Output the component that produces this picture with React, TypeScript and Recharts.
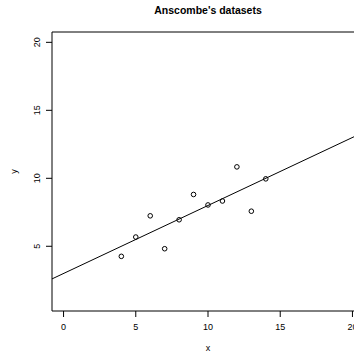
import React from "react";
import {
  ScatterChart,
  Scatter,
  XAxis,
  YAxis,
  ReferenceArea,
  ReferenceLine,
} from "recharts";

// Anscombe's quartet, dataset I
const xValues = [10, 8, 13, 9, 11, 14, 6, 4, 12, 7, 5];
const yValues = [8.04, 6.95, 7.58, 8.81, 8.33, 9.96, 7.24, 4.26, 10.84, 4.82, 5.68];
const xTicks = [0, 5, 10, 15, 20];
const yTicks = [5, 10, 15, 20];

// R-style extended ranges (4% padding)
const xDomain: [number, number] = [-0.8, 20.8];
const yDomain: [number, number] = [0.24, 20.76];

const points = xValues.map((x, i) => ({ x, y: yValues[i] }));

// least squares fit, like abline(lm(y ~ x))
const n = xValues.length;
const mx = xValues.reduce((s, v) => s + v, 0) / n;
const my = yValues.reduce((s, v) => s + v, 0) / n;
let sxy = 0;
let sxx = 0;
for (let i = 0; i < n; i++) {
  sxy += (xValues[i] - mx) * (yValues[i] - my);
  sxx += (xValues[i] - mx) ** 2;
}
const slope = sxy / sxx;
const intercept = my - slope * mx;

const FONT = '"Liberation Sans", Arial, Helvetica, sans-serif';

const YTick = (props: any) => {
  const { x, y, payload } = props;
  return (
    <text
      x={x}
      y={y}
      transform={`rotate(-90 ${x} ${y})`}
      textAnchor="middle"
      fontSize={9}
      fontFamily={FONT}
      fill="#000"
    >
      {payload.value}
    </text>
  );
};

const Circle = (props: any) => (
  <circle cx={props.cx} cy={props.cy} r={2.3} fill="none" stroke="#000" strokeWidth={1} />
);

export default function App() {
  return (
    <div
      style={{
        position: "absolute",
        left: 0,
        top: 0,
        width: 354,
        height: 355,
        overflow: "hidden",
        background: "#fff",
        fontFamily: FONT,
      }}
    >
      <div
        style={{
          position: "absolute",
          left: 108,
          width: 200,
          top: 4,
          textAlign: "center",
          fontSize: 10.5,
          fontWeight: "bold",
          color: "#000",
        }}
      >
        Anscombe's datasets
      </div>
      <ScatterChart
        width={400}
        height={355}
        margin={{ top: 32, right: 36, bottom: 0, left: 0 }}
      >
        <XAxis
          type="number"
          dataKey="x"
          domain={xDomain}
          ticks={xTicks}
          allowDataOverflow
          height={44}
          axisLine={false}
          tickSize={6}
          tickMargin={7}
          tickLine={{ stroke: "#000" }}
          tick={{ fontSize: 9, fill: "#000", fontFamily: FONT }}
          label={(p: any) => (
            <text
              x={p.viewBox.x + p.viewBox.width / 2}
              y={p.viewBox.y + 40}
              textAnchor="middle"
              fontSize={9}
              fontFamily={FONT}
              fill="#000"
            >
              x
            </text>
          )}
        />
        <YAxis
          type="number"
          dataKey="y"
          domain={yDomain}
          ticks={yTicks}
          allowDataOverflow
          width={52}
          axisLine={false}
          tickSize={6}
          tickMargin={6}
          tickLine={{ stroke: "#000" }}
          tick={<YTick />}
          label={(p: any) => {
            const cx = p.viewBox.x + 17;
            const cy = p.viewBox.y + p.viewBox.height / 2;
            return (
              <text
                x={cx}
                y={cy}
                transform={`rotate(-90 ${cx} ${cy})`}
                textAnchor="middle"
                fontSize={9}
                fontFamily={FONT}
                fill="#000"
              >
                y
              </text>
            );
          }}
        />
        <ReferenceArea
          x1={xDomain[0]}
          x2={xDomain[1]}
          y1={yDomain[0]}
          y2={yDomain[1]}
          fill="none"
          stroke="#000"
          strokeWidth={1}
        />
        <ReferenceLine
          segment={[
            { x: xDomain[0], y: intercept + slope * xDomain[0] },
            { x: xDomain[1], y: intercept + slope * xDomain[1] },
          ]}
          stroke="#000"
          strokeWidth={1}
        />
        <Scatter data={points} shape={<Circle />} isAnimationActive={false} />
      </ScatterChart>
    </div>
  );
}
